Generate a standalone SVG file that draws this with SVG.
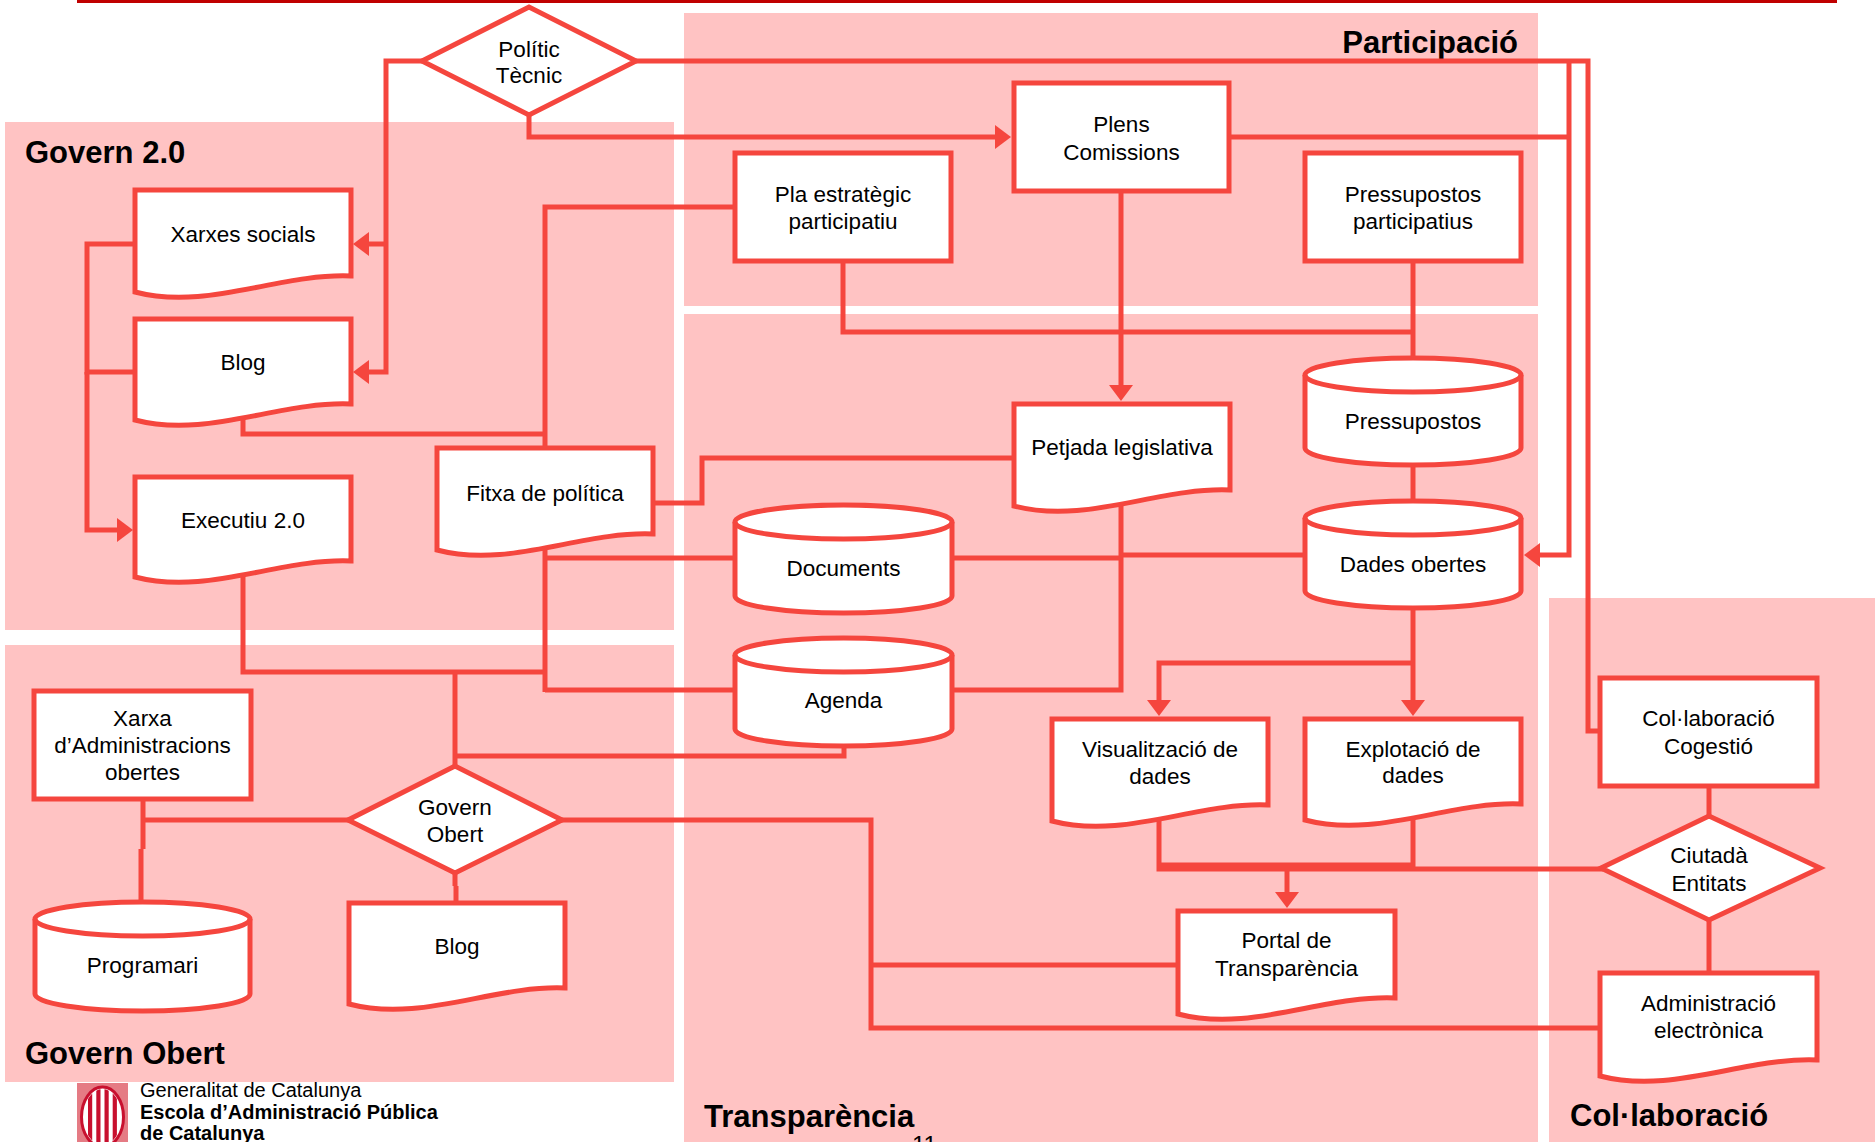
<svg xmlns="http://www.w3.org/2000/svg" width="1875" height="1142" viewBox="0 0 1875 1142">
<style>
.reg{fill:#ffc3c3}
.rt{font-family:"Liberation Sans",Arial,sans-serif;font-weight:bold;font-size:31px;fill:#000}
.nd{fill:#fff;stroke:#f5463e;stroke-width:5}
.ln{fill:none;stroke:#f5463e;stroke-width:5}
.t{font-family:"Liberation Sans",Arial,sans-serif;font-size:22.5px;fill:#000;text-anchor:middle}
.c{fill:none;stroke:#f5463e;stroke-width:5}
.ca{fill:none;stroke:#f5463e;stroke-width:5;marker-end:url(#arr)}
.lg{font-family:"Liberation Sans",Arial,sans-serif;font-size:20px;fill:#000}
</style>
<defs>
<marker id="arr" markerUnits="userSpaceOnUse" markerWidth="16" markerHeight="24" refX="12" refY="12" orient="auto" viewBox="0 0 16 24">
<path d="M0,0 L16,12 L0,24 Z" fill="#f5463e"/>
</marker>
<clipPath id="ovl"><ellipse cx="102.5" cy="1117" rx="19" ry="28"/></clipPath>
</defs>

<g id="background">
<line x1="77" y1="1.5" x2="1837" y2="1.5" stroke="#c00000" stroke-width="3"/>
<rect class="reg" x="5" y="122" width="669" height="508"/>
<rect class="reg" x="5" y="645" width="669" height="437"/>
<rect class="reg" x="684" y="13" width="854" height="293"/>
<rect class="reg" x="684" y="314" width="854" height="828"/>
<rect class="reg" x="1549" y="598" width="326" height="544"/>
<text class="rt" x="25" y="163">Govern 2.0</text>
<text class="rt" x="25" y="1064">Govern Obert</text>
<text class="rt" x="1518" y="53" text-anchor="end">Participació</text>
<text class="rt" x="704" y="1127">Transparència</text>
<text class="rt" x="1570" y="1126">Col·laboració</text>
</g>

<g id="connectors">
<path class="ca" d="M422,61 H386 V372 H357"/>
<path class="ca" d="M386,244 H357"/>
<path class="c" d="M135,244 H87 V372 H135"/>
<path class="ca" d="M87,372 V530 H129"/>
<path class="c" d="M243,410 V434 H545"/>
<path class="c" d="M735,207 H545 V450"/>
<path class="c" d="M653,503 H702 V458 H1014"/>
<path class="c" d="M545,540 V692"/>
<path class="c" d="M735,558 H545"/>
<path class="c" d="M735,690 H545"/>
<path class="c" d="M243,570 V672 H545"/>
<path class="c" d="M455,672 V768"/>
<path class="c" d="M844,740 V756 H455"/>
<path class="ca" d="M529,115 V137 H1007"/>
<path class="c" d="M1229,137 H1569"/>
<path class="c" d="M636,61 H1588 V731 H1600"/>
<path class="ca" d="M1569,61 V555 H1528"/>
<path class="ca" d="M1121,191 V397"/>
<path class="c" d="M843,261 V332 H1413"/>
<path class="c" d="M1413,261 V360"/>
<path class="c" d="M1413,460 V503"/>
<path class="c" d="M1121,500 V690 H952"/>
<path class="c" d="M952,558 H1121"/>
<path class="c" d="M1121,555 H1305"/>
<path class="ca" d="M1413,604 V712"/>
<path class="ca" d="M1413,663 H1159 V712"/>
<path class="c" d="M1159,812 V869 H1603"/>
<path class="c" d="M1413,812 V865 H1159"/>
<path class="ca" d="M1287,867 V904"/>
<path class="c" d="M1709,786 V818"/>
<path class="c" d="M1709,918 V975"/>
<path class="c" d="M560,820 H871 V1028 H1600"/>
<path class="c" d="M1178,965 H871"/>
<path class="c" d="M350,820 H142"/>
<path class="c" d="M143,799 V849 M141,849 V904"/>
<path class="c" d="M455,871 V886 M456,886 V905"/>
</g>

<g id="n-politic">
<polygon class="nd" points="422,61 529,7 636,61 529,115"/>
<text class="t" x="529" y="57">Polític</text>
<text class="t" x="529" y="83">Tècnic</text>
</g>
<g id="n-xarxes">
<path class="nd" d="M135,190 H351 V276 C279,273 207,311 135,292 Z"/>
<text class="t" x="243" y="242">Xarxes socials</text>
</g>
<g id="n-blog1">
<path class="nd" d="M135,319 H351 V404 C279,401 207,439 135,420 Z"/>
<text class="t" x="243" y="370">Blog</text>
</g>
<g id="n-executiu">
<path class="nd" d="M135,477 H351 V561 C279,558 207,596 135,577 Z"/>
<text class="t" x="243" y="528">Executiu 2.0</text>
</g>
<g id="n-fitxa">
<path class="nd" d="M437,448 H653 V534 C581,531 509,569 437,550 Z"/>
<text class="t" x="545" y="501">Fitxa de política</text>
</g>
<g id="n-pla">
<rect class="nd" x="735" y="153" width="216" height="108"/>
<text class="t" x="843" y="202">Pla estratègic</text>
<text class="t" x="843" y="229">participatiu</text>
</g>
<g id="n-plens">
<rect class="nd" x="1014" y="83" width="215" height="108"/>
<text class="t" x="1121.5" y="132">Plens</text>
<text class="t" x="1121.5" y="160">Comissions</text>
</g>
<g id="n-pp">
<rect class="nd" x="1305" y="153" width="216" height="108"/>
<text class="t" x="1413" y="202">Pressupostos</text>
<text class="t" x="1413" y="229">participatius</text>
</g>
<g id="n-petjada">
<path class="nd" d="M1014,404 H1230 V490 C1158,487 1086,525 1014,506 Z"/>
<text class="t" x="1122" y="455">Petjada legislativa</text>
</g>
<g id="n-pressupostos">
<path class="nd" d="M1305,375 A108,17 0 0 1 1521,375 V448 A108,17 0 0 1 1305,448 Z"/>
<path class="ln" d="M1305,375 A108,17 0 0 0 1521,375"/>
<text class="t" x="1413" y="429">Pressupostos</text>
</g>
<g id="n-dades">
<path class="nd" d="M1305,518 A108,17 0 0 1 1521,518 V591 A108,17 0 0 1 1305,591 Z"/>
<path class="ln" d="M1305,518 A108,17 0 0 0 1521,518"/>
<text class="t" x="1413" y="572">Dades obertes</text>
</g>
<g id="n-documents">
<path class="nd" d="M735,522 A108.5,17 0 0 1 952,522 V596 A108.5,17 0 0 1 735,596 Z"/>
<path class="ln" d="M735,522 A108.5,17 0 0 0 952,522"/>
<text class="t" x="843.5" y="576">Documents</text>
</g>
<g id="n-agenda">
<path class="nd" d="M735,655 A108.5,17 0 0 1 952,655 V729 A108.5,17 0 0 1 735,729 Z"/>
<path class="ln" d="M735,655 A108.5,17 0 0 0 952,655"/>
<text class="t" x="843.5" y="708">Agenda</text>
</g>
<g id="n-visualitzacio">
<path class="nd" d="M1052,719 H1268 V805 C1196,802 1124,840 1052,821 Z"/>
<text class="t" x="1160" y="757">Visualització de</text>
<text class="t" x="1160" y="784">dades</text>
</g>
<g id="n-explotacio">
<path class="nd" d="M1305,719 H1521 V804 C1449,801 1377,839 1305,820 Z"/>
<text class="t" x="1413" y="757">Explotació de</text>
<text class="t" x="1413" y="783">dades</text>
</g>
<g id="n-portal">
<path class="nd" d="M1178,911 H1395 V998 C1323,995 1250,1033 1178,1014 Z"/>
<text class="t" x="1286.5" y="948">Portal de</text>
<text class="t" x="1286.5" y="976">Transparència</text>
</g>
<g id="n-cogestio">
<rect class="nd" x="1600" y="678" width="217" height="108"/>
<text class="t" x="1708.5" y="725.5">Col·laboració</text>
<text class="t" x="1708.5" y="754">Cogestió</text>
</g>
<g id="n-ciutada">
<polygon class="nd" points="1601,868 1709,816 1820,868 1709,920"/>
<text class="t" x="1709" y="863">Ciutadà</text>
<text class="t" x="1709" y="891">Entitats</text>
</g>
<g id="n-admin">
<path class="nd" d="M1600,973 H1817 V1060 C1745,1057 1672,1095 1600,1076 Z"/>
<text class="t" x="1708.5" y="1011">Administració</text>
<text class="t" x="1708.5" y="1038">electrònica</text>
</g>
<g id="n-xarxa-admin">
<rect class="nd" x="34" y="691" width="217" height="108"/>
<text class="t" x="142.5" y="726">Xarxa</text>
<text class="t" x="142.5" y="753">d’Administracions</text>
<text class="t" x="142.5" y="780">obertes</text>
</g>
<g id="n-govern-obert">
<polygon class="nd" points="348,820 455,766 562,820 455,873"/>
<text class="t" x="455" y="815">Govern</text>
<text class="t" x="455" y="842">Obert</text>
</g>
<g id="n-programari">
<path class="nd" d="M35,919 A107.5,17 0 0 1 250,919 V994 A107.5,17 0 0 1 35,994 Z"/>
<path class="ln" d="M35,919 A107.5,17 0 0 0 250,919"/>
<text class="t" x="142.5" y="973">Programari</text>
</g>
<g id="n-blog2">
<path class="nd" d="M349,903 H565 V988 C493,985 421,1023 349,1004 Z"/>
<text class="t" x="457" y="954">Blog</text>
</g>

<g id="footer">
<rect x="77" y="1083" width="51" height="62" fill="#e57b84"/>
<ellipse cx="102.5" cy="1117" rx="21" ry="30" fill="#fff" stroke="#c8102e" stroke-width="3"/>
<g clip-path="url(#ovl)" fill="#c8102e">
<rect x="88" y="1085" width="4.2" height="60"/>
<rect x="96.3" y="1085" width="4.2" height="60"/>
<rect x="104.5" y="1085" width="4.2" height="60"/>
<rect x="112.7" y="1085" width="4.2" height="60"/>
</g>
<text class="lg" x="140" y="1097">Generalitat de Catalunya</text>
<text class="lg" x="140" y="1119" font-weight="bold">Escola d’Administració Pública</text>
<text class="lg" x="140" y="1140" font-weight="bold">de Catalunya</text>
<text x="912" y="1153" font-family="Liberation Sans, Arial, sans-serif" font-size="24" fill="#000">11</text>
</g>
</svg>
